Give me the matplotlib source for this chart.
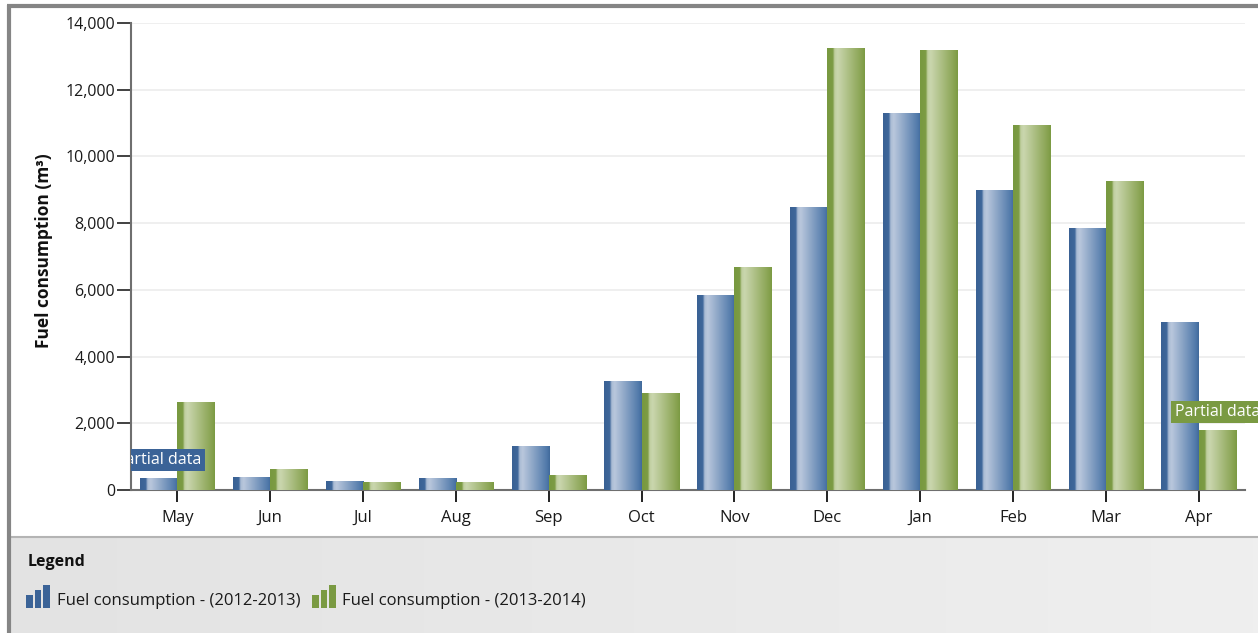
import numpy as np
import matplotlib
matplotlib.use("Agg")
import matplotlib.pyplot as plt
from matplotlib.colors import LinearSegmentedColormap
from matplotlib.patches import Rectangle

plt.rcParams['font.family'] = ['Open Sans', 'DejaVu Sans']

# ---- data -------------------------------------------------------------
months = ['May', 'Jun', 'Jul', 'Aug', 'Sep', 'Oct',
          'Nov', 'Dec', 'Jan', 'Feb', 'Mar', 'Apr']
fuel_2012_2013 = [370, 390, 270, 360, 1320, 3280, 5840, 8480, 11290, 8990, 7850, 5040]
fuel_2013_2014 = [2640, 630, 240, 240, 450, 2900, 6690, 13240, 13200, 10940, 9260, 1800]
series_names = ['Fuel consumption - (2012-2013)', 'Fuel consumption - (2013-2014)']
y_ticks = [0, 2000, 4000, 6000, 8000, 10000, 12000, 14000]
# (series index, month index) of months with incomplete readings
partial_points = [(0, 0), (1, 11)]
partial_text = 'Partial data'

# ---- styling ----------------------------------------------------------
W, H = 1258, 633
FS = 11.5
blue_dark, green_dark = '#3b6397', '#7a9a42'
blue_cmap = LinearSegmentedColormap.from_list('blue_bar', [
    (0.0, '#3a6194'), (0.15, '#3e679a'), (0.20, '#a9bbd4'),
    (0.28, '#b9c7dc'), (0.92, '#5079aa'), (1.0, '#41699b')])
green_cmap = LinearSegmentedColormap.from_list('green_bar', [
    (0.0, '#789940'), (0.15, '#7c9b44'), (0.20, '#c0cfa0'),
    (0.28, '#cad6ae'), (0.92, '#87a24f'), (1.0, '#7b9a43')])

fig = plt.figure(figsize=(W / 100, H / 100), dpi=100)

# background layer in pixel coordinates: frame and legend panel
bg = fig.add_axes([0, 0, 1, 1], zorder=0)
bg.axis('off')
panel_grad = np.linspace(0, 1, 256).reshape(1, -1)
bg.imshow(panel_grad, extent=[10, W, H, 537], aspect='auto',
          cmap=LinearSegmentedColormap.from_list('panel', ['#e3e3e3', '#efefef']),
          zorder=1)
bg.plot([10, W], [536.5, 536.5], color='#b4b4b4', lw=1.5, zorder=2)
bg.plot([8.5, 8.5], [5, H], color='#858585', lw=3, solid_capstyle='butt', zorder=3)
bg.plot([7, W], [5.5, 5.5], color='#858585', lw=3, solid_capstyle='butt', zorder=3)
bg.set_xlim(0, W)
bg.set_ylim(H, 0)

# legend panel contents
bg.text(28, 562, 'Legend', fontsize=FS, fontweight='bold', color='#111111',
        ha='left', va='center', zorder=4)
icon_heights = [13, 18, 23]
for (x0, tx), color, name in zip([(26, 57), (312, 342)], [blue_dark, green_dark], series_names):
    for k, hgt in enumerate(icon_heights):
        bg.add_patch(Rectangle((x0 + k * 8.5, 608 - hgt), 6.5, hgt,
                               facecolor=color, edgecolor='none', zorder=4))
    bg.text(tx, 601, name, fontsize=12, color='#1a1a1a', ha='left', va='center', zorder=4)

# ---- main chart -------------------------------------------------------
ax = fig.add_axes([131 / W, 1 - 490 / H, (1245 - 131) / W, (490 - 23) / H], zorder=1)
ax.set_facecolor('white')
x = np.arange(len(months))
bw = 0.4
bars_a = ax.bar(x - bw / 2, fuel_2012_2013, width=bw, color=blue_dark, zorder=2)
bars_b = ax.bar(x + bw / 2, fuel_2013_2014, width=bw, color=green_dark, zorder=2)

grad = np.linspace(0, 1, 200).reshape(1, -1)
for bars, cmap in ((bars_a, blue_cmap), (bars_b, green_cmap)):
    for p in bars:
        bx, by, w, h = p.get_x(), p.get_y(), p.get_width(), p.get_height()
        im = ax.imshow(grad, extent=[bx, bx + w, by, by + h], aspect='auto',
                       cmap=cmap, zorder=3, interpolation='bilinear')
        im.set_clip_path(p)

ax.set_xlim(-0.5, len(months) - 0.5)
ax.set_ylim(0, 14000)
ax.set_yticks(y_ticks)
ax.set_yticklabels([f'{v:,}' for v in y_ticks])
ax.set_xticks(x)
ax.set_xticklabels(months)
ax.grid(axis='y', color='#ececec', lw=1.2, zorder=0)
ax.set_axisbelow(True)
for s in ('top', 'right'):
    ax.spines[s].set_visible(False)
for s in ('left', 'bottom'):
    ax.spines[s].set_color('#6f6f6f')
    ax.spines[s].set_linewidth(1.5)
ax.tick_params(axis='y', length=10, width=1.3, color='#333333', pad=1.5,
               labelsize=FS, labelcolor='#1a1a1a')
ax.tick_params(axis='x', length=8.5, width=1.3, color='#111111', pad=6,
               labelsize=FS + 0.5, labelcolor='#1a1a1a')

fig.text(44 / W, 1 - 251 / H, 'Fuel consumption (m³)', rotation=90, fontsize=12.5,
         fontweight='bold', ha='center', va='center', color='#111111')

# partial-data call-outs above the affected bars
all_series = [fuel_2012_2013, fuel_2013_2014]
offsets = [-bw / 2, bw / 2]
colors = [blue_dark, green_dark]
for si, mi in partial_points:
    t = ax.annotate(partial_text, xy=(mi + offsets[si], all_series[si][mi]),
                    xytext=(0, 7), textcoords='offset points',
                    ha='center', va='bottom', fontsize=FS, color='white',
                    bbox=dict(boxstyle='square,pad=0.2', fc=colors[si], ec='none'),
                    zorder=6, annotation_clip=False)
    if si == 0:
        t.set_clip_box(ax.bbox)
        t.set_clip_on(True)
    else:
        t.set_clip_on(False)

fig.savefig('out.png', dpi=100)
